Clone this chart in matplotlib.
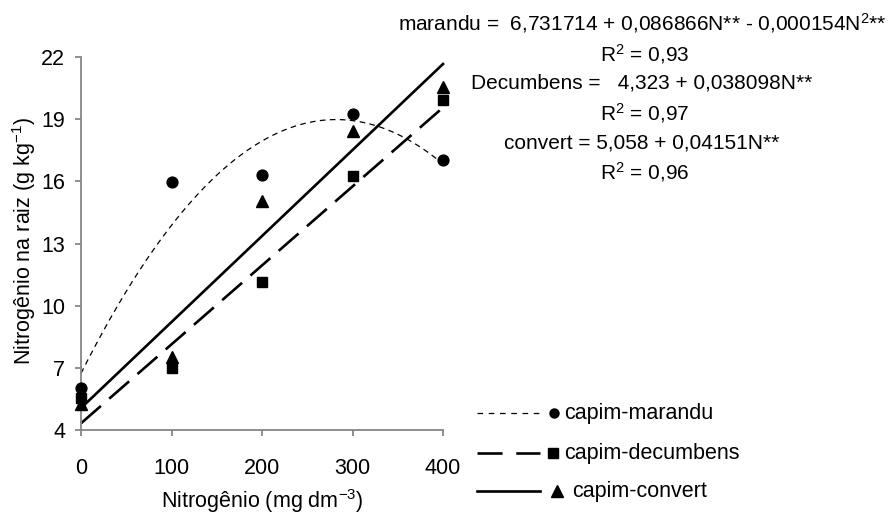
import numpy as np
import matplotlib
matplotlib.use("Agg")
import matplotlib.pyplot as plt
from matplotlib.lines import Line2D

plt.rcParams['font.family'] = ['Liberation Sans', 'DejaVu Sans']
plt.rcParams['mathtext.fontset'] = 'custom'
plt.rcParams['mathtext.rm'] = 'Liberation Sans'
plt.rcParams['mathtext.it'] = 'Liberation Sans:italic'
plt.rcParams['mathtext.bf'] = 'Liberation Sans:bold'

# ---- data ----
doses = [0, 100, 200, 300, 400]
marandu = [6.04, 15.95, 16.29, 19.27, 17.02]
decumbens = [5.53, 6.98, 11.16, 16.27, 19.94]
convert = [5.25, 7.54, 15.03, 18.42, 20.57]

# regression coefficients as printed on the chart (c0, c1, c2)
coef_marandu = [6.731714, 0.086866, -0.000154]
coef_decumbens = [4.323, 0.038098, 0.0]
coef_convert = [5.058, 0.04151, 0.0]

y_ticks = [4, 7, 10, 13, 16, 19, 22]
x_ticks = [0, 100, 200, 300, 400]

legend_labels = ["capim-marandu", "capim-decumbens", "capim-convert"]
eq_lines = [
    "marandu =  6,731714 + 0,086866N** - 0,000154N$^{2}$**",
    "R$^{2}$ = 0,93",
    "Decumbens =   4,323 + 0,038098N**",
    "R$^{2}$ = 0,97",
    "convert = 5,058 + 0,04151N**",
    "R$^{2}$ = 0,96",
]

W, H = 892, 517
fig = plt.figure(figsize=(W / 100, H / 100), dpi=100)
ax = fig.add_axes([81 / W, (H - 430) / H, (443 - 81) / W, (430 - 57) / H])

nn = np.linspace(0, 400, 200)
def poly(c, x):
    return c[0] + c[1] * x + c[2] * x ** 2

style_m = dict(color='black', lw=0.9, dashes=(4.5, 3.5))
style_d = dict(color='black', lw=1.9, dashes=(10, 4.2))
style_c = dict(color='black', lw=1.9, linestyle='-')

ax.plot(nn, poly(coef_marandu, nn), clip_on=False, **style_m)
ax.plot(nn, poly(coef_decumbens, nn), clip_on=False, **style_d)
ax.plot(nn, poly(coef_convert, nn), clip_on=False, **style_c)

ax.plot(doses, convert, linestyle='none', marker='^', ms=8, color='black', clip_on=False, zorder=5)
ax.plot(doses, decumbens, linestyle='none', marker='s', ms=7.2, color='black', clip_on=False, zorder=5)
ax.plot(doses, marandu, linestyle='none', marker='o', ms=7.8, color='black', clip_on=False, zorder=5)

ax.set_xlim(0, 400)
ax.set_ylim(4, 22)
ax.set_xticks(x_ticks)
ax.set_yticks(y_ticks)
for s in ['top', 'right']:
    ax.spines[s].set_visible(False)
for s in ['left', 'bottom']:
    ax.spines[s].set_color('#868686')
    ax.spines[s].set_linewidth(1.3)
ax.tick_params(axis='both', direction='out', length=4, width=1.3, color='#868686',
               labelsize=15.5, labelcolor='black')
ax.tick_params(axis='x', pad=16)
ax.tick_params(axis='y', pad=7.5)

fig.text(262 / W, 1 - 501 / H, "Nitrogênio (mg dm$^{-3}$)", ha='center', va='center', fontsize=15.5)
fig.text(24 / W, 1 - 241 / H, "Nitrogênio na raiz (g kg$^{-1}$)", ha='center', va='center',
         rotation=90, fontsize=15.5)

# equations
eq_x = [398, 600, 471, 600, 504, 600]
eq_y = [23, 54, 83, 113, 143, 172]
for t, x, y in zip(eq_lines, eq_x, eq_y):
    fig.text(x / W, 1 - y / H, t, ha='left', va='center', fontsize=15)

# legend (manual)
leg_y = [413, 453, 491]
leg_styles = [style_m, style_d, style_c]
leg_dash = [dict(dashes=(4.5, 4.5)), dict(dashes=(9.5, 5.2)), {}]
leg_markers = [('o', 6.5, 554), ('s', 7, 553), ('^', 9, 557)]
leg_text_x = [564, 564, 572]
for lab, y, st, dd, (mk, ms, mx), tx in zip(legend_labels, leg_y, leg_styles, leg_dash, leg_markers, leg_text_x):
    kw = dict(st)
    kw.update(dd)
    fig.add_artist(Line2D([477 / W, 540 / W], [1 - y / H, 1 - y / H], transform=fig.transFigure, **kw))
    fig.add_artist(Line2D([mx / W], [1 - y / H], transform=fig.transFigure, marker=mk, ms=ms,
                          color='black', linestyle='none'))
    fig.text(tx / W, 1 - y / H, lab, ha='left', va='center', fontsize=15.5)

fig.savefig("out.png", dpi=100)
